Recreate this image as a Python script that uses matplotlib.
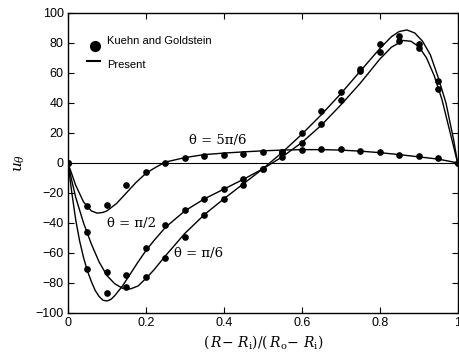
import numpy as np
import matplotlib
matplotlib.use("Agg")
import matplotlib.pyplot as plt

# Kuehn and Goldstein data (dots), x = (R-Ri)/(Ro-Ri)
x_exp = [0, 0.05, 0.1, 0.15, 0.2, 0.25, 0.3, 0.35, 0.4, 0.45, 0.5,
         0.55, 0.6, 0.65, 0.7, 0.75, 0.8, 0.85, 0.9, 0.95, 1.0]
u_exp_5pi6 = [0, -28.5, -27.8, -15, -6.2, 0, 3.1, 4.7, 5.5, 6.2, 6.9,
              7.5, 8.6, 9.2, 8.9, 8.0, 6.9, 5.5, 4.7, 3.5, 0]
u_exp_pi2 = [0, -70.4, -87, -74.7, -56.4, -41.3, -31.3, -24.2, -17.6, -11, -4,
             3.6, 13, 25.8, 41.6, 61.5, 73.8, 80.9, 76.4, 49.1, 0]
u_exp_pi6 = [0, -46.2, -73, -83, -76.2, -63.1, -49.3, -34.9, -24.2, -15, -4,
             7.5, 20.2, 34.7, 47.1, 62.7, 79.1, 84.2, 79, 54.7, 0]

# Present results (lines)
x_5pi6 = [0, 0.02, 0.04, 0.06, 0.075, 0.09, 0.1, 0.125, 0.15, 0.175, 0.2, 0.225,
          0.25, 0.3, 0.35, 0.4, 0.45, 0.5, 0.55, 0.6, 0.65, 0.7, 0.75, 0.8,
          0.85, 0.9, 0.95, 1.0]
u_5pi6 = [0, -15, -26, -32, -33.5, -33, -32, -27, -20, -13, -7, -3,
          0.5, 3.5, 5.5, 6.5, 7.3, 8, 8.5, 8.8, 8.8, 8.5, 7.8, 6.8,
          5.5, 4, 2.5, 0]

x_pi2 = [0, 0.01, 0.02, 0.03, 0.04, 0.05, 0.06, 0.07, 0.08, 0.09, 0.1, 0.11,
         0.12, 0.14, 0.16, 0.18, 0.2, 0.22, 0.25, 0.3, 0.35, 0.4, 0.45, 0.5,
         0.55, 0.6, 0.65, 0.7, 0.75, 0.8, 0.83, 0.86, 0.88, 0.9, 0.92, 0.94,
         0.96, 0.98, 1.0]
u_pi2 = [0, -20, -38, -52, -63, -72, -79, -85, -89, -91.5, -92, -91,
         -88.5, -82, -74, -66, -58.5, -52, -43, -32, -24, -17.5, -11, -4,
         4, 13.5, 25, 38.5, 53, 69, 77, 81.5, 81, 77.5, 70, 58,
         42, 21, 0]

x_pi6 = [0, 0.01, 0.02, 0.04, 0.06, 0.08, 0.1, 0.12, 0.14, 0.16, 0.18, 0.2,
         0.22, 0.25, 0.3, 0.35, 0.4, 0.45, 0.5, 0.55, 0.6, 0.65, 0.7, 0.75,
         0.8, 0.83, 0.85, 0.87, 0.89, 0.91, 0.93, 0.95, 0.97, 0.99, 1.0]
u_pi6 = [0, -12, -23, -40, -54, -66, -75, -80.5, -83.5, -84, -82, -77,
         -71.5, -62, -47, -34.5, -24, -14, -4, 7, 19, 32, 46, 61,
         76, 84, 87.5, 88.5, 86.5, 81, 72, 57, 40, 15, 0]

plt.rcParams['font.family'] = ['Liberation Sans', 'DejaVu Sans']

fig = plt.figure(figsize=(4.59, 3.58), dpi=100)
ax = fig.add_axes([0.148, 0.1257, 0.849, 0.8388])

ax.axhline(0, color='black', lw=0.8)

for xs, us in [(x_5pi6, u_5pi6), (x_pi2, u_pi2), (x_pi6, u_pi6)]:
    ax.plot(xs, us, color='black', lw=1.0)
for us in [u_exp_5pi6, u_exp_pi2, u_exp_pi6]:
    ax.plot(x_exp, us, 'o', color='black', ms=3.8, mec='black')

# legend (drawn by hand, no frame)
ax.plot([0.07], [78], 'o', color='black', ms=7)
ax.text(0.1, 81, 'Kuehn and Goldstein', fontsize=8, va='center')
ax.plot([0.05, 0.083], [68, 68], color='black', lw=1.5)
ax.text(0.1, 65.5, 'Present', fontsize=8, va='center')

serif = ['DejaVu Serif']
ax.text(0.31, 15, 'θ = 5π/6', fontsize=9.5, va='center', family=serif)
ax.text(0.1, -40.5, 'θ = π/2', fontsize=9.5, va='center', family=serif)
ax.text(0.272, -60.7, 'θ = π/6', fontsize=9.5, va='center', family=serif)

ax.set_xlim(0, 1)
ax.set_ylim(-100, 100)
ax.set_xticks(np.arange(0, 1.01, 0.2))
ax.set_xticklabels(['0', '0.2', '0.4', '0.6', '0.8', '1'])
ax.set_yticks(np.arange(-100, 101, 20))
ax.set_yticklabels(['\u2212100', '\u221280', '\u221260', '\u221240', '\u221220',
                    '0', '20', '40', '60', '80', '100'])
ax.tick_params(direction='in', top=True, right=True, length=4, width=0.8,
               labelsize=9, pad=3)
for s in ax.spines.values():
    s.set_linewidth(1.0)

ax.set_ylabel(r'$u_\theta$', fontsize=11, math_fontfamily='dejavuserif', labelpad=6)
ax.set_xlabel(r'$(\,R\!-\,R_{\rm i})/(\,R_{\rm o}\!-\,R_{\rm i})$', fontsize=10,
              math_fontfamily='dejavuserif', labelpad=3)

fig.savefig('out.png', dpi=100)
